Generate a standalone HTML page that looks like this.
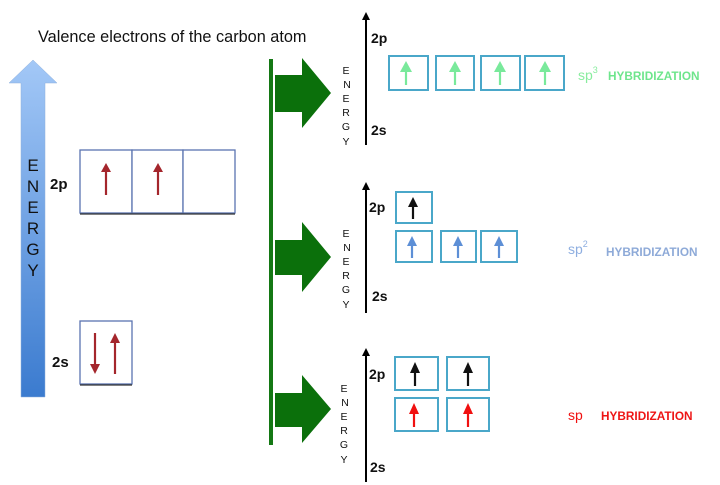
<!DOCTYPE html>
<html><head><meta charset="utf-8"><style>
html,body{margin:0;padding:0;background:#fff;width:720px;height:485px;overflow:hidden}
svg text{font-family:"Liberation Sans",sans-serif}
</style></head><body>
<svg width="720" height="485" viewBox="0 0 720 485" xmlns="http://www.w3.org/2000/svg">
<defs>
<linearGradient id="g" x1="0" y1="0" x2="0" y2="1">
<stop offset="0" stop-color="#a3c8f7"/><stop offset="1" stop-color="#3b7bcf"/>
</linearGradient>
<marker id="ah" markerWidth="8" markerHeight="8" refX="4" refY="4" orient="auto" markerUnits="userSpaceOnUse"><path d="M0,0 L8,4 L0,8 z" fill="#000"/></marker>
</defs>
<text x="38" y="42" font-size="16.3" fill="#111">Valence electrons of the carbon atom</text>
<path d="M21,397 L21,83 L9,83 L33,60 L57,83 L45,83 L45,397 Z" fill="url(#g)" stroke="#8fb0dc" stroke-width="0.5"/>
<g font-size="17" fill="#111" text-anchor="middle">
<text x="33" y="171">E</text><text x="33" y="192">N</text><text x="33" y="213">E</text><text x="33" y="234">R</text><text x="33" y="255">G</text><text x="33" y="276">Y</text>
</g>
<g font-weight="bold" font-size="15" fill="#111">
<text x="50" y="189">2p</text><text x="52" y="367">2s</text>
</g>
<g fill="#fff" stroke="#5a74b0" stroke-width="1.3">
<rect x="80" y="150" width="52" height="63"/><rect x="132" y="150" width="51" height="63"/><rect x="183" y="150" width="52" height="63"/>
<rect x="80" y="321" width="52" height="63"/>
</g>
<line x1="80" y1="214" x2="235" y2="214" stroke="#333" stroke-width="1.2"/>
<line x1="80" y1="385" x2="132" y2="385" stroke="#333" stroke-width="1.2"/>
<g stroke="#a4262c" stroke-width="2.2" fill="#a4262c">
<line x1="106" y1="195" x2="106" y2="170"/><path d="M101,172 L106,163 L111,172 z" stroke="none"/>
<line x1="158" y1="195" x2="158" y2="170"/><path d="M153,172 L158,163 L163,172 z" stroke="none"/>
<line x1="95" y1="333" x2="95" y2="366"/><path d="M90,364 L95,374 L100,364 z" stroke="none"/>
<line x1="115" y1="374" x2="115" y2="342"/><path d="M110,343 L115,333 L120,343 z" stroke="none"/>
</g>
<rect x="269" y="59" width="4" height="386" fill="#147814"/>
<g fill="#0b700b">
<path d="M275,75 L302,75 L302,58 L331,93 L302,128 L302,112 L275,112 Z"/>
<path d="M275,240 L302,240 L302,222 L331,257 L302,292 L302,275 L275,275 Z"/>
<path d="M275,393 L302,393 L302,375 L331,409 L302,443 L302,427 L275,427 Z"/>
</g>
<g stroke="#000" stroke-width="2">
<line x1="366" y1="145" x2="366" y2="16" marker-end="url(#ah)"/>
<line x1="366" y1="313" x2="366" y2="186" marker-end="url(#ah)"/>
<line x1="366" y1="482" x2="366" y2="352" marker-end="url(#ah)"/>
</g>
<g font-size="10.5" fill="#111" text-anchor="middle">
<text x="346" y="74">E</text><text x="347" y="88">N</text><text x="346" y="102">E</text><text x="346" y="116">R</text><text x="346" y="130">G</text><text x="346" y="145">Y</text>
<text x="346" y="237">E</text><text x="347" y="251">N</text><text x="346" y="265">E</text><text x="346" y="279">R</text><text x="346" y="293">G</text><text x="346" y="308">Y</text>
<text x="344" y="392">E</text><text x="345" y="406">N</text><text x="344" y="420">E</text><text x="344" y="434">R</text><text x="344" y="448">G</text><text x="344" y="463">Y</text>
</g>
<g font-weight="bold" font-size="14" fill="#111">
<text x="371" y="43">2p</text><text x="371" y="135">2s</text>
<text x="369" y="212">2p</text><text x="372" y="301">2s</text>
<text x="369" y="379">2p</text><text x="370" y="472">2s</text>
</g>
<g fill="#fff" stroke="#4aa7c9" stroke-width="2">
<rect x="389" y="56" width="39" height="34"/><rect x="436" y="56" width="38" height="34"/><rect x="481" y="56" width="39" height="34"/><rect x="525" y="56" width="39" height="34"/>
<rect x="396" y="192" width="36" height="31"/>
<rect x="396" y="231" width="36" height="31"/><rect x="441" y="231" width="35" height="31"/><rect x="481" y="231" width="36" height="31"/>
<rect x="395" y="357" width="43" height="33"/><rect x="447" y="357" width="42" height="33"/>
<rect x="395" y="398" width="43" height="33"/><rect x="447" y="398" width="42" height="33"/>
</g>
<g stroke-width="2.2">
<g stroke="#79e99b" fill="#79e99b">
<line x1="406" y1="85" x2="406" y2="69"/><path d="M400,72 L406,61 L412,72z" stroke="none"/>
<line x1="455" y1="85" x2="455" y2="69"/><path d="M449,72 L455,61 L461,72z" stroke="none"/>
<line x1="500" y1="85" x2="500" y2="69"/><path d="M494,72 L500,61 L506,72z" stroke="none"/>
<line x1="545" y1="85" x2="545" y2="69"/><path d="M539,72 L545,61 L551,72z" stroke="none"/>
</g>
<g stroke="#111" fill="#111">
<line x1="413" y1="219" x2="413" y2="204"/><path d="M408,207 L413,197 L418,207z" stroke="none"/>
<line x1="415" y1="386" x2="415" y2="370"/><path d="M410,373 L415,362 L420,373z" stroke="none"/>
<line x1="468" y1="386" x2="468" y2="370"/><path d="M463,373 L468,362 L473,373z" stroke="none"/>
</g>
<g stroke="#5d8fd6" fill="#5d8fd6">
<line x1="412" y1="258" x2="412" y2="243"/><path d="M407,246 L412,236 L417,246z" stroke="none"/>
<line x1="458" y1="258" x2="458" y2="243"/><path d="M453,246 L458,236 L463,246z" stroke="none"/>
<line x1="499" y1="258" x2="499" y2="243"/><path d="M494,246 L499,236 L504,246z" stroke="none"/>
</g>
<g stroke="#f01010" fill="#f01010">
<line x1="414" y1="427" x2="414" y2="411"/><path d="M409,414 L414,403 L419,414z" stroke="none"/>
<line x1="468" y1="427" x2="468" y2="411"/><path d="M463,414 L468,403 L473,414z" stroke="none"/>
</g>
</g>
<g font-weight="bold">
<text x="578" y="80" font-size="14" fill="#88ec9e" font-weight="normal">sp<tspan font-size="9" dy="-7">3</tspan></text>
<text x="608" y="80" font-size="11.8" fill="#6ee58c">HYBRIDIZATION</text>
<text x="568" y="254" font-size="14" fill="#8eaee0" font-weight="normal">sp<tspan font-size="9" dy="-7">2</tspan></text>
<text x="606" y="256" font-size="11.8" fill="#8eaad8">HYBRIDIZATION</text>
<text x="568" y="420" font-size="14" fill="#f01010" font-weight="normal">sp</text>
<text x="601" y="420" font-size="11.8" fill="#ee1515">HYBRIDIZATION</text>
</g>
</svg>
</body></html>
